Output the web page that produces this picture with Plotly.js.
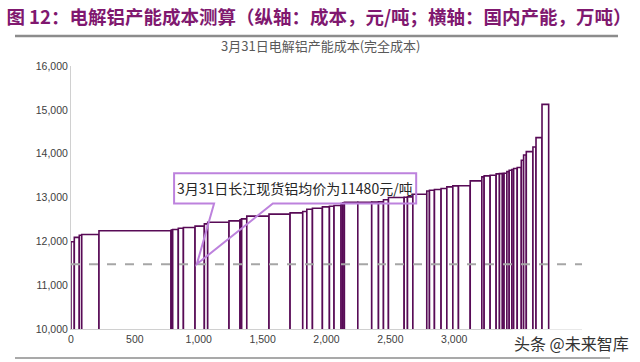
<!DOCTYPE html>
<html>
<head>
<meta charset="utf-8">
<script src="https://cdn.plot.ly/plotly-3.0.1.min.js"></script>
<style>html,body{margin:0;padding:0;background:#fff;}#chart{width:640px;height:362px;}</style>
</head>
<body>
<div id="chart"></div>
<script>
// Capacity segments (万吨) and full cost (元/吨), sorted by cost
var capacity = [26, 39, 19, 135, 564, 7, 6, 44, 40, 91, 73, 26, 167, 86, 7, 6, 40, 174, 165, 99, 32, 44, 78, 55, 36, 55, 13, 13, 105, 109, 53, 39, 39, 123, 26, 42, 109, 21, 39, 52, 45, 47, 44, 92, 91, 18, 47, 47, 26, 23, 13, 22, 18, 21, 14, 28, 32, 18, 21, 52, 24, 47, 52];
var cost = [11990, 12090, 12140, 12155, 12240, 12250, 12258, 12271, 12300, 12316, 12346, 12399, 12437, 12467, 12490, 12498, 12513, 12574, 12620, 12650, 12680, 12733, 12756, 12787, 12802, 12817, 12860, 12877, 12893, 12893, 12895, 12900, 12950, 13000, 13005, 13015, 13075, 13150, 13166, 13181, 13204, 13242, 13265, 13268, 13380, 13470, 13493, 13508, 13538, 13545, 13548, 13553, 13590, 13622, 13640, 13660, 13683, 13850, 13971, 14047, 14153, 14367, 15125];
var spotPrice = 11480;
var spotX = 985;
var xTicks = [0, 500, 1000, 1500, 2000, 2500, 3000];
var yTicks = [10000, 11000, 12000, 13000, 14000, 15000, 16000];
var titleText = '图 12：电解铝产能成本测算（纵轴：成本，元/吨；横轴：国内产能，万吨）';
var subTitle = '3月31日电解铝产能成本(完全成本)';
var calloutText = '3月31日长江现货铝均价为11480元/吨';

var mids = [], cum = 0;
for (var i = 0; i < capacity.length; i++) { mids.push(cum + capacity[i] / 2); cum += capacity[i]; }

var trace = {
  type: 'bar', x: mids, y: cost, width: capacity,
  marker: {color: '#ffffff', line: {color: '#580b56', width: 1.6}},
  hoverinfo: 'skip', showlegend: false
};

// callout box (data coords)
var bx0 = 807, bx1 = 2702, by0 = 12863, by1 = 13553, px0 = 1120, px1 = 1580;
var path = 'M' + bx0 + ',' + by1 + ' L' + bx1 + ',' + by1 + ' L' + bx1 + ',' + by0 +
  ' L' + px1 + ',' + by0 + ' L' + spotX + ',' + spotPrice + ' L' + px0 + ',' + by0 +
  ' L' + bx0 + ',' + by0 + ' Z';

var layout = {
  width: 640, height: 362,
  margin: {l: 71, r: 58, t: 66, b: 33},
  paper_bgcolor: '#ffffff', plot_bgcolor: '#ffffff',
  font: {family: 'Liberation Sans, Arial, sans-serif', color: '#404040', size: 10.5},
  title: {text: '<b>' + titleText + '</b>', x: 0.01, xanchor: 'left', xref: 'container',
          y: 1 - 18 / 362, yref: 'container', yanchor: 'middle',
          font: {family: 'Noto Sans CJK SC, sans-serif', size: 18.5, color: '#80186f'}},
  xaxis: {range: [0, 4000], tickvals: xTicks, tickformat: ',', showgrid: false, zeroline: false,
          showline: true, linecolor: '#d0d0d0', linewidth: 1, ticks: '', fixedrange: true,
          tickfont: {size: 10.5, color: '#404040'}},
  yaxis: {range: [10000, 16000], tickvals: yTicks, tickformat: ',', showgrid: false, zeroline: false,
          showline: true, linecolor: '#d0d0d0', linewidth: 1, ticks: '', fixedrange: true,
          tickfont: {size: 10.5, color: '#404040'}},
  shapes: [
    {type: 'line', xref: 'x', yref: 'y', x0: 0, x1: 4000, y0: spotPrice, y1: spotPrice,
     line: {color: '#a6a6a6', width: 2, dash: 'dash'}, layer: 'above'},
    {type: 'path', xref: 'x', yref: 'y', path: path, fillcolor: 'rgba(0,0,0,0)',
     line: {color: '#bd82dd', width: 2}, layer: 'above'},
    {type: 'line', xref: 'paper', yref: 'paper', x0: (15 - 71) / 511, x1: (618 - 71) / 511,
     y0: (329 - 36) / 263, y1: (329 - 36) / 263, line: {color: '#8c8c8c', width: 2.5}},
    {type: 'line', xref: 'paper', yref: 'paper', x0: (15 - 71) / 511, x1: (610 - 71) / 511,
     y0: (329 - 358) / 263, y1: (329 - 358) / 263, line: {color: '#8c8c8c', width: 1.5}}
  ],
  annotations: [
    {text: subTitle, xref: 'paper', yref: 'paper', x: (320 - 71) / 511, y: (329 - 45) / 263,
     xanchor: 'center', yanchor: 'middle', showarrow: false,
     font: {family: 'Noto Sans CJK SC, sans-serif', size: 13, color: '#595959'}},
    {text: calloutText, xref: 'x', yref: 'y', x: (bx0 + bx1) / 2, y: (by0 + by1) / 2,
     xanchor: 'center', yanchor: 'middle', showarrow: false,
     font: {family: 'Noto Sans CJK SC, sans-serif', size: 14, color: '#262626'}},
    {text: '头条 @未来智库', xref: 'paper', yref: 'paper', x: (571 - 71) / 511, y: (329 - 343) / 263,
     xanchor: 'center', yanchor: 'middle', showarrow: false, bgcolor: '#ffffff',
     font: {family: 'Noto Sans CJK SC, sans-serif', size: 16, color: '#333333'}}
  ]
};

Plotly.newPlot('chart', [trace], layout, {displayModeBar: false, staticPlot: true});
</script>
</body>
</html>
